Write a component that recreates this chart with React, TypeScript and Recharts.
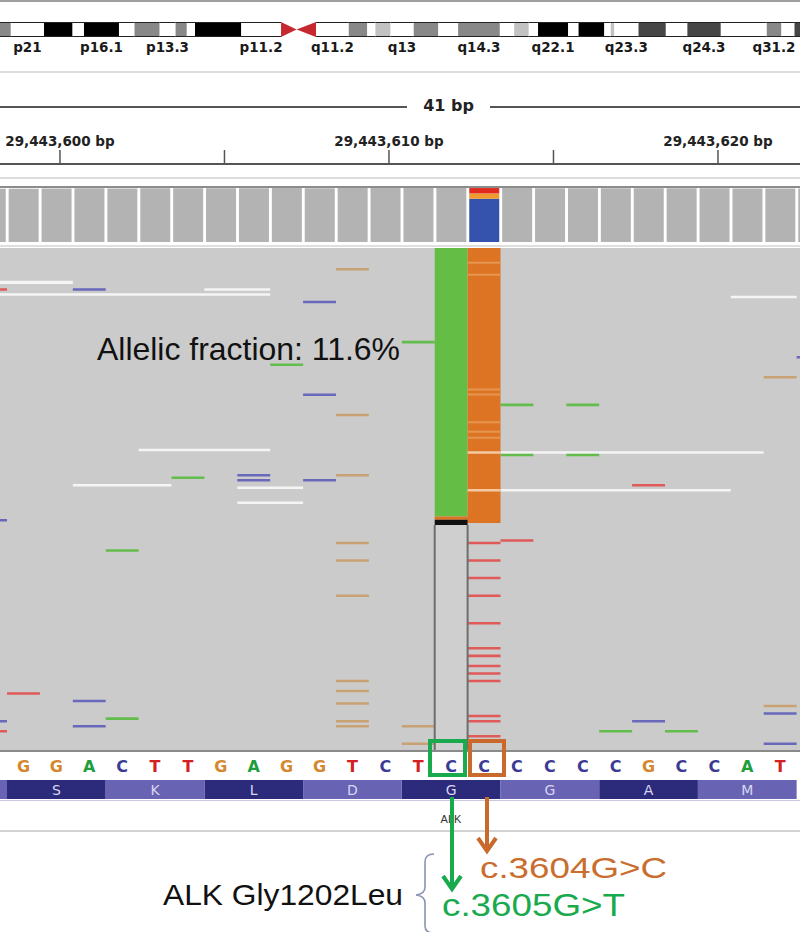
import React from "react";
import { Area, Bar, ComposedChart, Line, Scatter, XAxis, YAxis } from "recharts";

type Base = "A" | "C" | "G" | "T";

// chr2 cytobands (hg19), [name, startMb, endMb, stain]
const CYTOBANDS: [string, number, number, string][] = [
  ["p22.1", 38.6, 41.8, "gpos50"],
  ["p21", 41.8, 47.8, "gneg"],
  ["p16.3", 47.8, 52.9, "gpos100"],
  ["p16.2", 52.9, 55.0, "gneg"],
  ["p16.1", 55.0, 61.3, "gpos100"],
  ["p15", 61.3, 64.1, "gneg"],
  ["p14", 64.1, 68.6, "gpos50"],
  ["p13.3", 68.6, 71.5, "gneg"],
  ["p13.2", 71.5, 73.5, "gpos50"],
  ["p13.1", 73.5, 75.0, "gneg"],
  ["p12", 75.0, 83.3, "gpos100"],
  ["p11.2", 83.3, 90.5, "gneg"],
  ["p11.1", 90.5, 93.3, "acen"],
  ["q11.1", 93.3, 96.8, "acen"],
  ["q11.2", 96.8, 102.7, "gneg"],
  ["q12.1", 102.7, 106.0, "gpos50"],
  ["q12.2", 106.0, 107.5, "gneg"],
  ["q12.3", 107.5, 110.2, "gpos25"],
  ["q13", 110.2, 114.4, "gneg"],
  ["q14.1", 114.4, 118.8, "gpos50"],
  ["q14.2", 118.8, 122.4, "gneg"],
  ["q14.3", 122.4, 129.9, "gpos50"],
  ["q21.1", 129.9, 132.5, "gneg"],
  ["q21.2", 132.5, 135.1, "gpos25"],
  ["q21.3", 135.1, 136.8, "gneg"],
  ["q22.1", 136.8, 142.2, "gpos100"],
  ["q22.2", 142.2, 144.1, "gneg"],
  ["q22.3", 144.1, 148.7, "gpos100"],
  ["q23.1", 148.7, 149.9, "gneg"],
  ["q23.2", 149.9, 150.5, "gpos25"],
  ["q23.3", 150.5, 154.9, "gneg"],
  ["q24.1", 154.9, 159.8, "gpos75"],
  ["q24.2", 159.8, 163.7, "gneg"],
  ["q24.3", 163.7, 169.7, "gpos75"],
  ["q31.1", 169.7, 178.0, "gneg"],
  ["q31.2", 178.0, 180.6, "gpos50"],
  ["q31.3", 180.6, 183.0, "gneg"],
  ["q32.1", 183.0, 189.4, "gpos75"],
];
const LABELED_BANDS = ["p21", "p16.1", "p13.3", "p11.2", "q11.2", "q13", "q14.3", "q22.1", "q23.3", "q24.3", "q31.2"];
const IDEO_VIEW: [number, number] = [39.87, 183.99];

// ruler
const RULER_TICKS = [29443600, 29443605, 29443610, 29443615, 29443620];
const POS_OF_INDEX0 = 29443598.39; // genomic coordinate of the left edge of base 0
const WINDOW_BP = 41;

// reference sequence (base 0 = first G shown) and its translation, one codon per 3 bases
const REF_BASES: Base[] = ["G", "G", "A", "C", "T", "T", "G", "A", "G", "G", "T", "C", "T", "C", "C", "C", "C", "C", "C", "G", "C", "C", "A", "T"];
const AMINO_ACIDS = ["", "S", "K", "L", "D", "G", "G", "A", "M"]; // first codon is cut off on the left

// coverage, bases -1 .. 24
const COVERAGE_DEPTH = [1012, 1015, 1018, 1020, 1019, 1021, 1022, 1020, 1023, 1025, 1024, 1026, 1025, 1027, 1026, 1026, 1025, 1024, 1023, 1022, 1022, 1021, 1020, 1019, 1018, 1017];
const VARIANT_INDEX = 14;
const VARIANT_COUNTS = { C: 822, G: 102, T: 102 };

// reads: mismatches [base index, row, base]
const MISMATCHES: [number, number, Base][] = [
  [-1, 16, "T"], [2, 16, "C"], [10, 8, "G"], [9, 21, "C"], [12, 37, "A"], [8, 46, "A"], [9, 58, "C"], [10, 66, "G"],
  [5, 91, "A"], [7, 90, "C"], [7, 92, "C"], [9, 92, "C"], [10, 90, "G"], [24, 43, "C"], [23, 51, "G"],
  [15, 62, "A"], [17, 62, "A"], [15, 82, "A"], [17, 82, "A"], [19, 94, "T"], [-1, 108, "C"], [3, 120, "A"],
  [10, 117, "G"], [10, 124, "G"], [10, 138, "G"], [10, 172, "G"], [10, 176, "G"], [10, 181, "G"], [10, 188, "G"], [10, 190, "G"],
  [0, 177, "T"], [2, 180, "C"], [2, 190, "C"], [3, 187, "A"], [-1, 188, "C"], [-1, 192, "T"],
  [12, 190, "G"], [12, 197, "G"], [23, 182, "G"], [23, 185, "C"], [23, 197, "C"], [19, 188, "C"],
  [18, 192, "A"], [20, 192, "A"], [15, 116, "T"],
  [14, 117, "T"], [14, 124, "T"], [14, 131, "T"], [14, 138, "T"], [14, 149, "T"], [14, 159, "T"], [14, 162, "T"],
  [14, 166, "T"], [14, 169, "T"], [14, 172, "T"], [14, 186, "T"], [14, 188, "T"], [14, 194, "T"], [14, 196, "T"],
];
// read ends drawn white: [from index, to index, row, rows tall]
const READ_GAPS: [number, number, number, number][] = [
  [-1, 2, 13, 1.3], [6, 8, 16, 1], [-1, 8, 18, 1], [22, 24, 19, 1], [4, 8, 80, 1], [2, 5, 94, 1],
  [7, 9, 95, 1], [7, 9, 101, 1], [14, 23, 81, 1], [14, 22, 96, 1],
];
// variant-supporting reads sorted to the top: [index, fromRow, toRow, base]
const ALT_BLOCKS: [number, number, number, Base][] = [
  [13, 0, 107, "A"], [13, 107, 108.3, "G"], [14, 0, 109.6, "G"],
];
// low-quality G calls inside the G column (drawn paler)
const PALE_G_ROWS = [5.5, 10.3, 56, 58, 69, 72.8, 75.2];
const READ_ROWS = 200;

const ZERO = { top: 0, right: 0, bottom: 0, left: 0 };
const W = 800;
const X_DOMAIN: [number, number] = [-0.213, 24.103];

const STAIN: Record<string, string> = {
  gneg: "#ffffff", gpos25: "#c2c2c2", gpos50: "#888888", gpos75: "#464646", gpos100: "#000000", acen: "#c62830",
};
const SEQ_COLOR: Record<Base, string> = { A: "#1e9e3c", C: "#3b3b95", G: "#d4882e", T: "#d42020" };
const MISMATCH_COLOR: Record<Base, string> = { A: "#63bd4d", C: "#6a68bb", G: "#c9a274", T: "#e05a5a" };
const ALT_COLOR: Record<Base, string> = { A: "#64be45", C: "#3553ad", G: "#dc7424", T: "#e02a1e" };
const FONT = "'Liberation Sans', Arial, sans-serif";
const MONO_BOLD = { fontFamily: "'DejaVu Sans', sans-serif", fontWeight: 700 };
const BASES: Base[] = ["A", "C", "G", "T"];

// each rectangle becomes two points of a range area, followed by an empty row that breaks the path
const rectRows = (key: string, rects: number[][]) =>
  rects.flatMap(([x1, x2, y1, y2]) => [{ x: x1, [key]: [y1, y2] }, { x: x2, [key]: [y1, y2] }, {}]);

const areaProps = { type: "linear" as const, stroke: "none", fillOpacity: 1, dot: false, activeDot: false, isAnimationActive: false };

// ---------- ideogram ----------
const labelMids = CYTOBANDS.filter((b) => LABELED_BANDS.includes(b[0])).map((b) => ({ mid: (b[1] + b[2]) / 2, name: b[0] }));
const stains = ["gneg", "gpos25", "gpos50", "gpos75", "gpos100"];
const acen = CYTOBANDS.filter((b) => b[3] === "acen");
const ideoData = [
  ...stains.flatMap((s) => rectRows(s, CYTOBANDS.filter((b) => b[3] === s).map((b) => [b[1], b[2], 0, 1]))),
  { x: acen[0][1], acen: [0, 1] },
  { x: acen[0][2], acen: [0.5, 0.5] },
  { x: acen[1][2], acen: [0, 1] },
];

const Ideogram = () => (
  <ComposedChart width={W} height={60} data={ideoData} margin={{ top: 22, right: 0, bottom: 0, left: 0 }}>
    <XAxis
      type="number"
      dataKey="x"
      domain={IDEO_VIEW}
      allowDataOverflow
      ticks={labelMids.map((d) => d.mid)}
      interval={0}
      tickFormatter={(v: number) => labelMids.find((d) => d.mid === v)?.name ?? ""}
      axisLine={false}
      tickLine={false}
      tickSize={0}
      tickMargin={5}
      height={23}
      tick={{ fontSize: 13.5, fill: "#1a1a1a", ...MONO_BOLD }}
    />
    <YAxis hide type="number" domain={[0, 1]} allowDataOverflow />
    {stains.map((s) => (
      <Area key={s} dataKey={s} {...areaProps} fill={STAIN[s]} stroke="#222" strokeWidth={2} />
    ))}
    <Area dataKey="acen" {...areaProps} fill={STAIN.acen} />
  </ComposedChart>
);

// ---------- ruler ----------
const rulerView: [number, number] = [POS_OF_INDEX0 + X_DOMAIN[0], POS_OF_INDEX0 + X_DOMAIN[1]];

const Ruler = () => (
  <ComposedChart width={W} height={90} data={RULER_TICKS.map((pos) => ({ pos }))} margin={ZERO}>
    <XAxis
      type="number"
      dataKey="pos"
      orientation="top"
      domain={rulerView}
      allowDataOverflow
      ticks={RULER_TICKS}
      interval={0}
      height={84}
      tickSize={14}
      tickMargin={4}
      tickFormatter={(v: number) => (v % 10 === 0 ? `${v.toLocaleString("en-US")} bp` : "")}
      axisLine={{ stroke: "#555", strokeWidth: 2 }}
      tickLine={{ stroke: "#555", strokeWidth: 1.5 }}
      tick={{ fontSize: 13.5, fill: "#222", ...MONO_BOLD }}
    />
    <YAxis hide type="number" domain={[0, 1]} />
  </ComposedChart>
);

// ---------- coverage ----------
const coverageRows = COVERAGE_DEPTH.map((depth, i) => {
  const index = i - 1;
  const isVariant = index === VARIANT_INDEX;
  return {
    x: index + 0.5,
    refCount: isVariant ? 0 : depth,
    C: isVariant ? VARIANT_COUNTS.C : 0,
    G: isVariant ? VARIANT_COUNTS.G : 0,
    T: isVariant ? VARIANT_COUNTS.T : 0,
  };
});

const Coverage = () => (
  <ComposedChart width={W} height={54} data={coverageRows} margin={ZERO} barCategoryGap="5%" barGap={0}>
    <XAxis type="number" dataKey="x" domain={X_DOMAIN} allowDataOverflow hide />
    <YAxis type="number" domain={[0, "dataMax"]} hide />
    <Bar dataKey="refCount" stackId="cov" fill="#b3b3b3" isAnimationActive={false} />
    <Bar dataKey="C" stackId="cov" fill={ALT_COLOR.C} isAnimationActive={false} />
    <Bar dataKey="G" stackId="cov" fill="#ee9a30" isAnimationActive={false} />
    <Bar dataKey="T" stackId="cov" fill={ALT_COLOR.T} isAnimationActive={false} />
  </ComposedChart>
);

// ---------- reads ----------
const altEnd = ALT_BLOCKS[0][2];
const capTop = altEnd + 1.3;
const boxTop = altEnd + 3.4;
const readsData = [
  ...rectRows("reads", [[-1, 25, 0, READ_ROWS]]),
  ...rectRows("gap", READ_GAPS.map(([a, b, r, h]) => [a, b, r, r + h])),
  ...BASES.flatMap((b) => rectRows(`mm${b}`, MISMATCHES.filter((m) => m[2] === b).map(([k, r]) => [k, k + 1, r, r + 1]))),
  ...BASES.flatMap((b) => rectRows(`alt${b}`, ALT_BLOCKS.filter((a) => a[3] === b).map(([k, f, t]) => [k, k + 1, f, t]))),
  ...rectRows("paleG", PALE_G_ROWS.map((r) => [VARIANT_INDEX, VARIANT_INDEX + 1, r, r + 0.8])),
  ...rectRows(
    "gapOnAlt",
    READ_GAPS.filter((g) => g[0] <= VARIANT_INDEX && g[1] > VARIANT_INDEX).map(([, , r, h]) => [VARIANT_INDEX, VARIANT_INDEX + 1, r, r + h])
  ),
  ...rectRows("cap", [[13, 14, capTop, boxTop]]),
  ...rectRows("box", [[13, 14, boxTop, READ_ROWS]]),
  { x: 13, edge: boxTop }, { x: 13, edge: READ_ROWS }, {},
  { x: 14, edge: boxTop }, { x: 14, edge: READ_ROWS }, {},
];

const Reads = () => (
  <ComposedChart width={W} height={502} data={readsData} margin={ZERO}>
    <XAxis type="number" dataKey="x" domain={X_DOMAIN} allowDataOverflow hide />
    <YAxis type="number" domain={[0, READ_ROWS]} reversed allowDataOverflow hide />
    <Area dataKey="reads" {...areaProps} fill="#cbcbcb" />
    <Area dataKey="gap" {...areaProps} fill="#f5f5f5" />
    {BASES.map((b) => (
      <Area key={`mm${b}`} dataKey={`mm${b}`} {...areaProps} fill={MISMATCH_COLOR[b]} />
    ))}
    {BASES.map((b) => (
      <Area key={`alt${b}`} dataKey={`alt${b}`} {...areaProps} fill={ALT_COLOR[b]} />
    ))}
    <Area dataKey="paleG" {...areaProps} fill="#e5954f" />
    <Area dataKey="gapOnAlt" {...areaProps} fill="#f3c9a2" />
    <Area dataKey="cap" {...areaProps} fill="#111" />
    <Area dataKey="box" {...areaProps} fill="#cfcfcf" />
    <Line dataKey="edge" type="linear" stroke="#6e6e6e" strokeWidth={2} dot={false} activeDot={false} isAnimationActive={false} />
  </ComposedChart>
);

// ---------- sequence + translation ----------
const seqRows = REF_BASES.map((base, i) => ({ x: i + 0.5, y: 0.5, base }));
const BaseLetter = (props: any) => {
  const { cx, cy, payload } = props;
  return (
    <text x={cx} y={cy} textAnchor="middle" dominantBaseline="central" fontSize={16} fill={SEQ_COLOR[payload.base as Base]} {...MONO_BOLD}>
      {payload.base}
    </text>
  );
};

const Sequence = () => (
  <ComposedChart width={W} height={26} margin={ZERO}>
    <XAxis type="number" dataKey="x" domain={X_DOMAIN} allowDataOverflow hide />
    <YAxis type="number" dataKey="y" domain={[0, 1]} hide />
    <Scatter data={seqRows} shape={BaseLetter} isAnimationActive={false} />
  </ComposedChart>
);

const codons = AMINO_ACIDS.map((aa, j) => ({ start: (j - 1) * 3, aa, dark: j % 2 === 1 }));
const translationData = [
  ...rectRows("dark", codons.filter((c) => c.dark).map((c) => [c.start, c.start + 3, 0, 1])),
  ...rectRows("light", codons.filter((c) => !c.dark).map((c) => [c.start, c.start + 3, 0, 1])),
];
const aaLabels = codons.map((c) => ({ x: c.start + 1.5, y: 0.5, aa: c.aa }));
const AminoLetter = (props: any) => {
  const { cx, cy, payload } = props;
  return (
    <text x={cx} y={cy} textAnchor="middle" dominantBaseline="central" fontSize={14} fill="#d8d6f2" fontFamily="'DejaVu Sans', sans-serif">
      {payload.aa}
    </text>
  );
};

const Translation = () => (
  <ComposedChart width={W} height={19} data={translationData} margin={ZERO}>
    <XAxis type="number" dataKey="x" domain={X_DOMAIN} allowDataOverflow hide />
    <YAxis type="number" dataKey="y" domain={[0, 1]} allowDataOverflow hide />
    <Area dataKey="dark" {...areaProps} fill="#2c2a7a" />
    <Area dataKey="light" {...areaProps} fill="#6863b2" />
    <Scatter data={aaLabels} shape={AminoLetter} isAnimationActive={false} />
  </ComposedChart>
);

const hline = (top: number, h: number, color: string) => (
  <div style={{ position: "absolute", left: 0, top, width: W, height: h, background: color }} />
);

const Annotations = () => (
  <svg width={W} height={932} style={{ position: "absolute", left: 0, top: 0, pointerEvents: "none" }}>
    <text x={97} y={360} fontSize={32} fontFamily={FONT} fill="#111" textLength={303} lengthAdjust="spacingAndGlyphs">
      Allelic fraction: 11.6%
    </text>
    <rect x={430} y={741} width={35} height={34} fill="none" stroke="#1aaa4e" strokeWidth={4} />
    <rect x={470} y={741} width={34} height={34} fill="none" stroke="#c96a2c" strokeWidth={4} />
    <text x={451} y={823} fontSize={11} textAnchor="middle" fontFamily={FONT} fill="#333">
      ALK
    </text>
    <line x1={452} y1={797} x2={452} y2={888} stroke="#1aaa4e" strokeWidth={4} />
    <polyline points="443,876 452,889 461,876" fill="none" stroke="#1aaa4e" strokeWidth={4} />
    <line x1={487} y1={797} x2={487} y2={850} stroke="#c96a2c" strokeWidth={4} />
    <polyline points="478,838 487,851 496,838" fill="none" stroke="#c96a2c" strokeWidth={4} />
    <path d="M434,854 Q425,854 425,862 L425,887 Q425,894 416,895 Q425,896 425,903 L425,926 Q425,933 434,933" fill="none" stroke="#8a93b2" strokeWidth={1.6} />
    <text x={480} y={878} fontSize={30} fontFamily={FONT} fill="#c96e2e" textLength={187} lengthAdjust="spacingAndGlyphs">
      c.3604G&gt;C
    </text>
    <text x={442} y={916} fontSize={31} fontFamily={FONT} fill="#1aaa4e" textLength={183} lengthAdjust="spacingAndGlyphs">
      c.3605G&gt;T
    </text>
    <text x={163} y={905} fontSize={29} fontFamily={FONT} fill="#111" textLength={240} lengthAdjust="spacingAndGlyphs">
      ALK Gly1202Leu
    </text>
  </svg>
);

export default function App() {
  return (
    <div style={{ position: "relative", width: W, height: 932, background: "#fff", overflow: "hidden", fontFamily: FONT }}>
      <style>{"body{margin:0}"}</style>
      {hline(0, 2, "#a0a0a0")}
      <div style={{ position: "absolute", left: 0, top: 0 }}>
        <Ideogram />
      </div>
      {hline(71, 2, "#dedede")}
      {/* window width bar */}
      <div style={{ position: "absolute", left: 0, top: 106, width: 407, height: 2, background: "#555" }} />
      <div style={{ position: "absolute", left: 490, top: 106, width: 310, height: 2, background: "#555" }} />
      <div style={{ position: "absolute", left: 407, top: 96, width: 83, textAlign: "center", fontSize: 16, lineHeight: "20px", color: "#222", ...MONO_BOLD }}>
        {WINDOW_BP} bp
      </div>
      <div style={{ position: "absolute", left: 0, top: 80 }}>
        <Ruler />
      </div>
      {hline(177, 2, "#dcdcdc")}
      {hline(186, 2, "#8c8c8c")}
      <div style={{ position: "absolute", left: 0, top: 188 }}>
        <Coverage />
      </div>
      {hline(245, 2, "#dedede")}
      <div style={{ position: "absolute", left: 0, top: 248 }}>
        <Reads />
      </div>
      {hline(750, 2, "#8a8a8a")}
      <div style={{ position: "absolute", left: 0, top: 753 }}>
        <Sequence />
      </div>
      <div style={{ position: "absolute", left: 0, top: 780 }}>
        <Translation />
      </div>
      {hline(800, 1, "#c9c8e0")}
      {hline(830, 2, "#d2d2d2")}
      <Annotations />
    </div>
  );
}
